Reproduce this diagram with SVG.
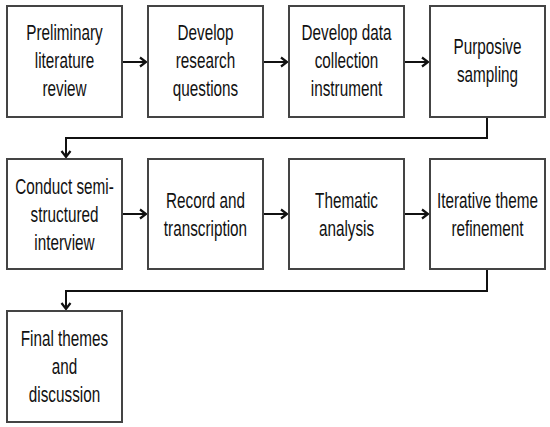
<svg xmlns="http://www.w3.org/2000/svg" width="550" height="427" viewBox="0 0 550 427">
<defs>
<marker id="ah" markerWidth="12" markerHeight="12" refX="9" refY="6" orient="auto" markerUnits="userSpaceOnUse">
<path d="M3,1.5 L9,6 L3,10.5" fill="none" stroke="#111" stroke-width="2.2"/>
</marker>
<style>
rect{fill:#fff;stroke:#444;stroke-width:2}
text{font-family:"Liberation Sans",Arial,sans-serif;font-size:22.5px;fill:#111;text-anchor:middle}
.c{fill:none;stroke:#111;stroke-width:2;marker-end:url(#ah)}
</style>
</defs>
<rect x="0" y="0" width="550" height="427" style="fill:#fff;stroke:none"/>
<g id="connectors">
<path class="c" d="M122,62 H146"/>
<path class="c" d="M263,62 H287"/>
<path class="c" d="M404,62 H428"/>
<path class="c" d="M487,117 V138 H66 V157"/>
<path class="c" d="M122,214 H146"/>
<path class="c" d="M263,214 H287"/>
<path class="c" d="M404,214 H428"/>
<path class="c" d="M487,269 V291 H66 V309"/>
</g>
<g id="n1"><rect x="7" y="6" width="115" height="111"/>
<g transform="translate(64.5,0) scale(0.68,1)"><text x="0" y="40">Preliminary</text><text x="0" y="68">literature</text><text x="0" y="96">review</text></g></g>
<g id="n2"><rect x="148" y="6" width="115" height="111"/>
<g transform="translate(205.5,0) scale(0.68,1)"><text x="0" y="40">Develop</text><text x="0" y="68">research</text><text x="0" y="96">questions</text></g></g>
<g id="n3"><rect x="289" y="6" width="115" height="111"/>
<g transform="translate(346.5,0) scale(0.68,1)"><text x="0" y="40">Develop data</text><text x="0" y="68">collection</text><text x="0" y="96">instrument</text></g></g>
<g id="n4"><rect x="430" y="6" width="115" height="111"/>
<g transform="translate(487.5,0) scale(0.68,1)"><text x="0" y="54">Purposive</text><text x="0" y="82">sampling</text></g></g>
<g id="n5"><rect x="7" y="159" width="115" height="110"/>
<g transform="translate(64.5,0) scale(0.68,1)"><text x="0" y="194">Conduct semi-</text><text x="0" y="222">structured</text><text x="0" y="250">interview</text></g></g>
<g id="n6"><rect x="148" y="159" width="115" height="110"/>
<g transform="translate(205.5,0) scale(0.68,1)"><text x="0" y="208">Record and</text><text x="0" y="236">transcription</text></g></g>
<g id="n7"><rect x="289" y="159" width="115" height="110"/>
<g transform="translate(346.5,0) scale(0.68,1)"><text x="0" y="208">Thematic</text><text x="0" y="236">analysis</text></g></g>
<g id="n8"><rect x="430" y="159" width="115" height="110"/>
<g transform="translate(487.5,0) scale(0.68,1)"><text x="0" y="208">Iterative theme</text><text x="0" y="236">refinement</text></g></g>
<g id="n9"><rect x="7" y="311" width="115" height="111"/>
<g transform="translate(64.5,0) scale(0.68,1)"><text x="0" y="346">Final themes</text><text x="0" y="374">and</text><text x="0" y="402">discussion</text></g></g>
</svg>
